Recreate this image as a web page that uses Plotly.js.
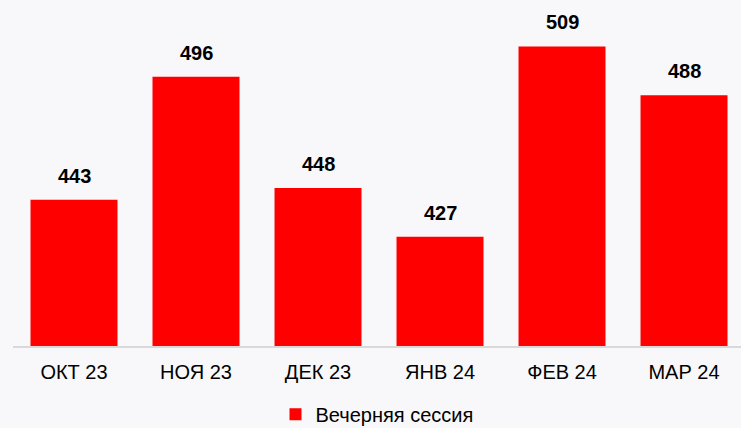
<!DOCTYPE html>
<html>
<head>
<meta charset="utf-8">
<script src="https://cdn.plot.ly/plotly-3.0.1.min.js"></script>
<style>html,body{margin:0;padding:0;background:#f8f8fa;}</style>
</head>
<body>
<div id="chart" style="width:741px;height:428px;"></div>
<script>
const categories = ["ОКТ 23", "НОЯ 23", "ДЕК 23", "ЯНВ 24", "ФЕВ 24", "МАР 24"];
const values = [443, 496, 448, 427, 509, 488];
const seriesName = "Вечерняя сессия";

const trace = {
  type: "bar",
  x: categories,
  y: values,
  name: seriesName,
  marker: {color: "#ff0000"},
  hoverinfo: "x+y",
  showlegend: true
};

const annotations = categories.map((c, i) => ({
  x: c, y: values[i], xref: "x", yref: "y",
  text: "<b>" + values[i] + "</b>",
  showarrow: false, yanchor: "bottom", yshift: 11,
  font: {family: "Liberation Sans, Arial, sans-serif", size: 20, color: "#000000"}
}));

const layout = {
  width: 741, height: 428,
  margin: {l: 13, r: 0, t: 0, b: 82},
  paper_bgcolor: "#f8f8fa",
  plot_bgcolor: "#f8f8fa",
  bargap: 0.287,
  font: {family: "Liberation Sans, Arial, sans-serif", size: 20, color: "#000000"},
  xaxis: {
    type: "category",
    range: [-0.5, 5.467],
    showline: true, linecolor: "#d9d9d9", linewidth: 1.5,
    showgrid: false, zeroline: false,
    ticks: "", ticklabelstandoff: 7,
    tickfont: {size: 20, color: "#000000"}
  },
  yaxis: {
    range: [380, 529],
    visible: false, showgrid: false, zeroline: false
  },
  legend: {
    orientation: "h", x: 0.5, xanchor: "center",
    yref: "container", y: 0.032, yanchor: "middle",
    font: {size: 20, color: "#000000"},
    itemwidth: 30, bgcolor: "rgba(0,0,0,0)"
  },
  annotations: annotations
};

Plotly.newPlot("chart", [trace], layout, {displayModeBar: false, staticPlot: true});
</script>
</body>
</html>
